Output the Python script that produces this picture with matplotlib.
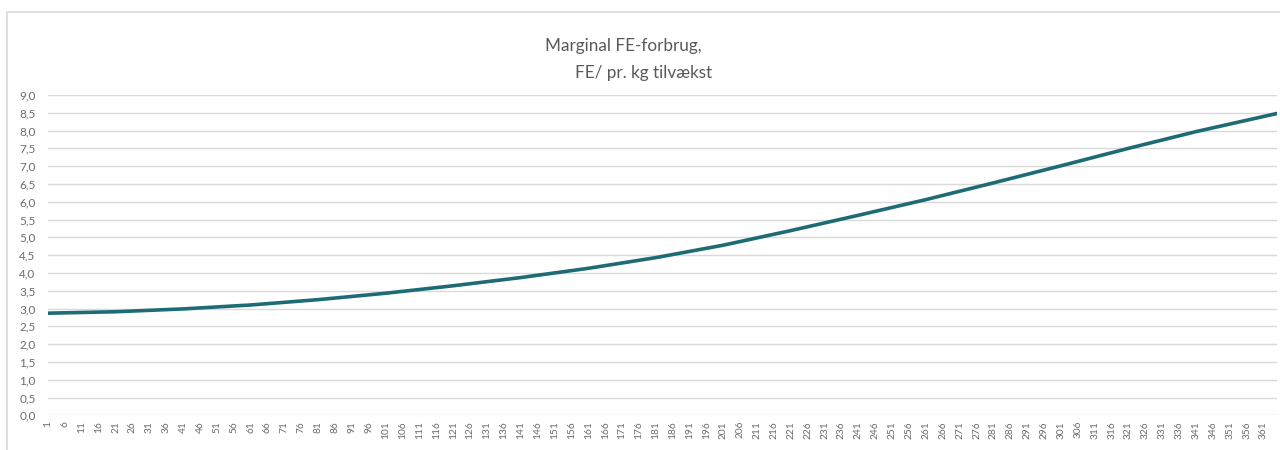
import matplotlib
matplotlib.use("Agg")
import matplotlib.pyplot as plt
from matplotlib.patches import Rectangle

plt.rcParams['font.family'] = ['Lato', 'DejaVu Sans']

# data (dag, FE pr. kg tilvækst)
dage = [1, 21, 41, 61, 81, 101, 121, 141, 161, 181, 201, 221, 241, 261, 281, 301, 321, 341, 365]
fe_pr_kg = [2.87, 2.91, 2.99, 3.10, 3.25, 3.43, 3.64, 3.87, 4.13, 4.43, 4.78, 5.19, 5.62, 6.06, 6.53,
            7.01, 7.50, 7.97, 8.48]
x_ticks = list(range(1, 366, 5))
y_ticks = [i * 0.5 for i in range(19)]

fig = plt.figure(figsize=(12.8, 4.5), dpi=100)
ax = fig.add_axes([0.0375, 0.077, 0.9602, 0.712])

# ramme rundt om diagrammet
fig.patches.append(Rectangle((7 / 1280, -0.1), 1.2, 1 - 12 / 450 + 0.1,
                             transform=fig.transFigure, fill=False,
                             edgecolor='#d9d9d9', linewidth=1.2))

ax.plot(dage, fe_pr_kg, color='#1d6c75', linewidth=2.6, solid_capstyle='round',
        solid_joinstyle='round')

ax.set_xlim(1, 365)
ax.set_ylim(0, 9)
ax.set_yticks(y_ticks)
ax.set_yticklabels([f"{v:.1f}".replace('.', ',') for v in y_ticks])
ax.set_xticks(x_ticks)
ax.set_xticklabels([str(v) for v in x_ticks], rotation=90)
ax.tick_params(axis='both', length=0, colors='#6b6b6b')
ax.tick_params(axis='y', labelsize=8.5, pad=9)
ax.tick_params(axis='x', labelsize=7.3, pad=4)

ax.grid(axis='y', color='#d9d9d9', linewidth=1)
ax.set_axisbelow(True)
for s in ax.spines.values():
    s.set_visible(False)

# titel i to linjer
fig.text(623 / 1280, 1 - 46 / 450, "Marginal FE-forbrug,", ha='center', va='center',
         fontsize=12.3, color='#595959')
fig.text(644 / 1280, 1 - 73 / 450, "FE/ pr. kg tilvækst", ha='center', va='center',
         fontsize=12.3, color='#595959')

fig.savefig('out.png', dpi=100)
